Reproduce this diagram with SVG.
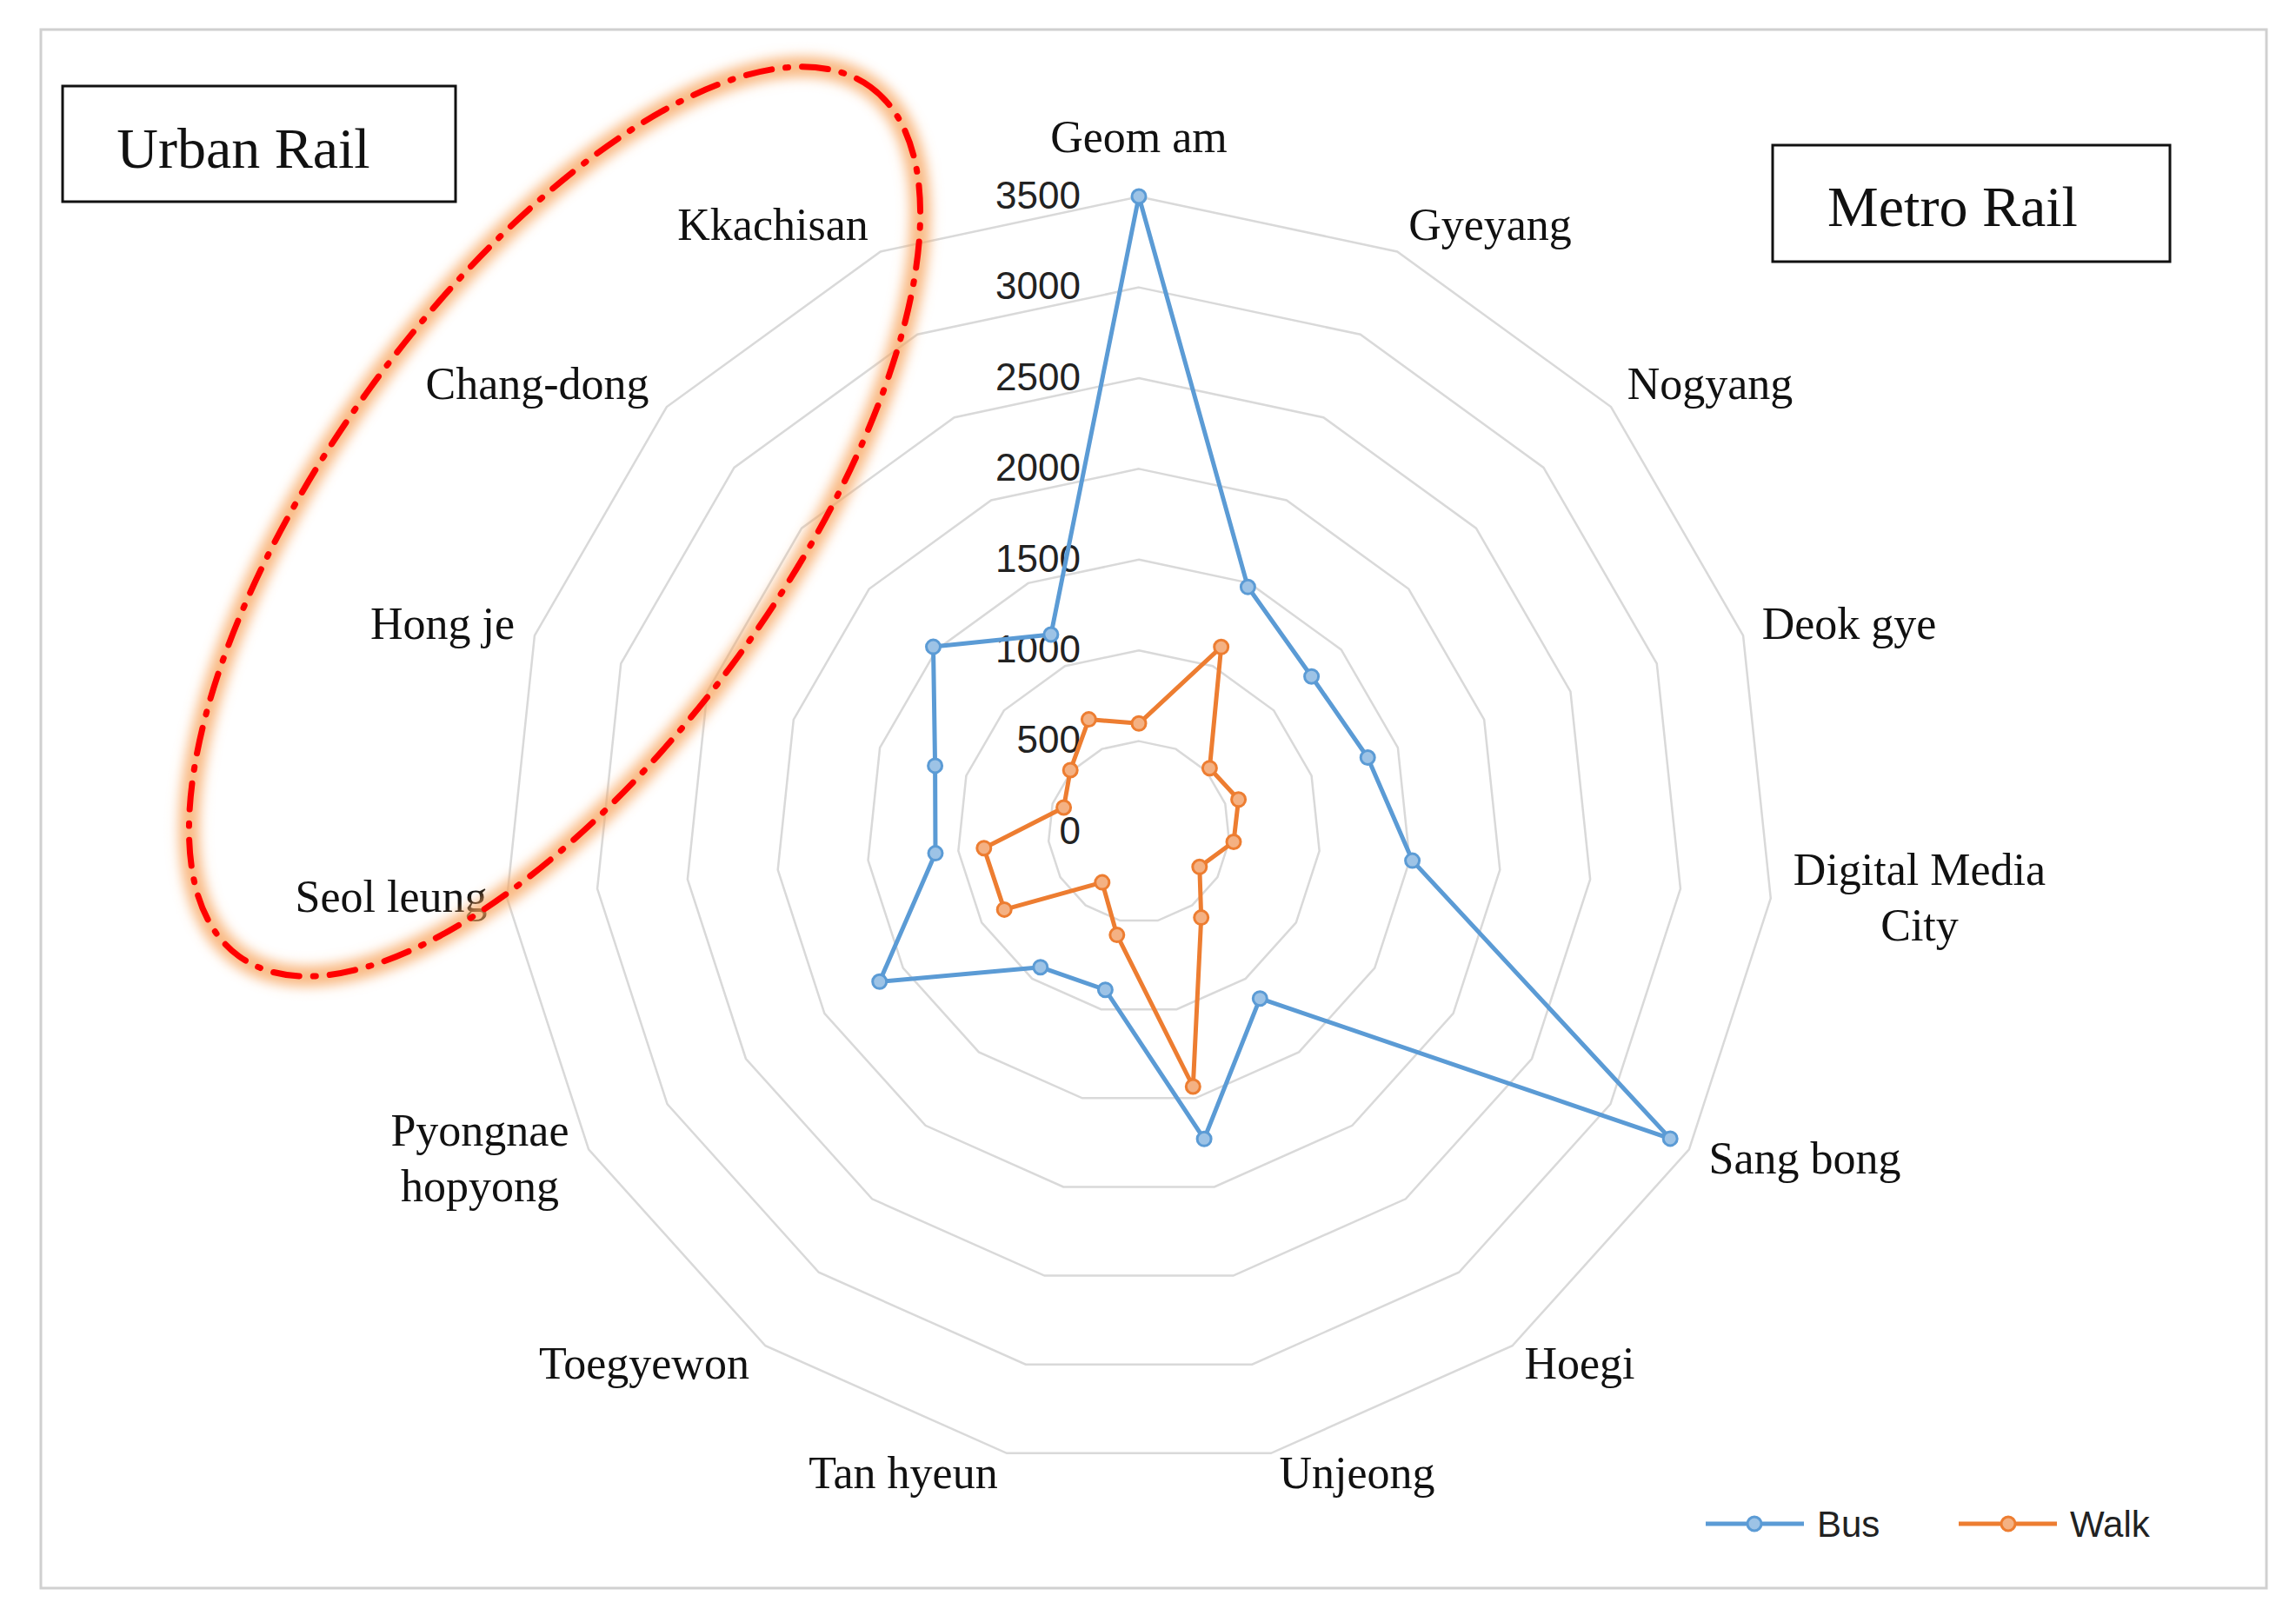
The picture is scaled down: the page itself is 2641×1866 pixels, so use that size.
<svg xmlns="http://www.w3.org/2000/svg" width="2641" height="1866" viewBox="0 0 2641 1866">
<style>
.ring{fill:none;stroke:#D9D9D9;stroke-width:2.5}
.lbl{font-family:"Liberation Serif","Times New Roman",serif;font-size:52px;fill:#111;text-anchor:middle;dominant-baseline:central}
.num{font-family:"Liberation Sans",Arial,sans-serif;font-size:44px;fill:#222;text-anchor:end;dominant-baseline:central}
.leg{font-family:"Liberation Sans",Arial,sans-serif;font-size:42px;fill:#222;dominant-baseline:central}
.box{fill:#fff;stroke:#111;stroke-width:3}
.title{font-family:"Liberation Serif","Times New Roman",serif;font-size:66px;fill:#111;text-anchor:middle;dominant-baseline:central}
</style>
<defs>
<polygon id="u" vector-effect="non-scaling-stroke" fill="none" stroke="#D9D9D9" stroke-width="2.5" points="0,-100 40.67,-91.35 74.31,-66.91 95.11,-30.90 99.45,10.45 86.60,50 58.78,80.90 20.79,97.81 -20.79,97.81 -58.78,80.90 -86.60,50 -99.45,10.45 -95.11,-30.90 -74.31,-66.91 -40.67,-91.35"/>
<marker id="mb" markerUnits="userSpaceOnUse" markerWidth="24" markerHeight="24" refX="12" refY="12"><circle cx="12" cy="12" r="8" fill="#9DC3E6" stroke="#5B9BD5" stroke-width="3"/></marker>
<marker id="mw" markerUnits="userSpaceOnUse" markerWidth="24" markerHeight="24" refX="12" refY="12"><circle cx="12" cy="12" r="8" fill="#F4B183" stroke="#ED7D31" stroke-width="3"/></marker>
<filter id="glow" x="-20%" y="-20%" width="140%" height="140%"><feGaussianBlur stdDeviation="7"/></filter>
</defs>
<rect width="2641" height="1866" fill="#fff"/>
<rect x="47" y="34" width="2560" height="1793" fill="#fff" stroke="#D0D0D0" stroke-width="3"/>
<g id="grid">
<use href="#u" transform="translate(1310,957) scale(1.044)"/>
<use href="#u" transform="translate(1310,957) scale(2.088)"/>
<use href="#u" transform="translate(1310,957) scale(3.132)"/>
<use href="#u" transform="translate(1310,957) scale(4.176)"/>
<use href="#u" transform="translate(1310,957) scale(5.22)"/>
<use href="#u" transform="translate(1310,957) scale(6.264)"/>
<use href="#u" transform="translate(1310,957) scale(7.308)"/>
</g>
<g id="axis-numbers">
<text class="num" x="1243" y="224">3500</text>
<text class="num" x="1243" y="328">3000</text>
<text class="num" x="1243" y="433">2500</text>
<text class="num" x="1243" y="537">2000</text>
<text class="num" x="1243" y="642">1500</text>
<text class="num" x="1243" y="746">1000</text>
<text class="num" x="1243" y="850">500</text>
<text class="num" x="1243" y="955">0</text>
</g>
<g id="connectors">
<polygon id="bus" fill="none" stroke="#5B9BD5" stroke-width="5" stroke-linejoin="round" marker-start="url(#mb)" marker-mid="url(#mb)" points="1310,226 1435.4,675.3 1508.6,778.2 1573.2,871.5 1624.6,990.1 1921.2,1309.9 1449.3,1148.7 1385.1,1310.3 1271.4,1138.7 1196.8,1112.7 1011.7,1129.3 1076,981.6 1075.6,880.9 1073.5,744.1 1208.9,730"/>
<polygon id="walk" fill="none" stroke="#ED7D31" stroke-width="5" stroke-linejoin="round" marker-start="url(#mw)" marker-mid="url(#mw)" points="1310,832.3 1404.7,744.3 1391.4,883.7 1424.6,919.8 1419,968.5 1379.8,997.3 1381.7,1055.6 1372.3,1250 1284.8,1075.6 1267.8,1015.1 1155.2,1046.4 1131.8,975.7 1223.6,929 1231.2,886 1252.4,827.6"/>
</g>
<g id="labels">
<text class="lbl" x="1310" y="157">Geom am</text>
<text class="lbl" x="1714" y="258">Gyeyang</text>
<text class="lbl" x="1967" y="441">Nogyang</text>
<text class="lbl" x="2127" y="717">Deok gye</text>
<text class="lbl" x="2208" y="1000">Digital Media</text>
<text class="lbl" x="2208" y="1064">City</text>
<text class="lbl" x="2076" y="1332">Sang bong</text>
<text class="lbl" x="1817" y="1568">Hoegi</text>
<text class="lbl" x="1561" y="1694">Unjeong</text>
<text class="lbl" x="1039" y="1694">Tan hyeun</text>
<text class="lbl" x="741" y="1568">Toegyewon</text>
<text class="lbl" x="552" y="1300">Pyongnae</text>
<text class="lbl" x="552" y="1364">hopyong</text>
<text class="lbl" x="450" y="1031">Seol leung</text>
<text class="lbl" x="509" y="717">Hong je</text>
<text class="lbl" x="618" y="441">Chang-dong</text>
<text class="lbl" x="889" y="258">Kkachisan</text>
</g>
<g id="urban-rail"><rect class="box" x="72" y="99" width="452" height="133"/><text class="title" x="280" y="170">Urban Rail</text></g>
<g id="metro-rail"><rect class="box" x="2039" y="167" width="457" height="134"/><text class="title" x="2246" y="237">Metro Rail</text></g>
<g id="highlight">
<ellipse cx="638" cy="600" rx="618" ry="262" transform="rotate(-54 638 600)" fill="none" stroke="#F7A35C" stroke-opacity="0.75" stroke-width="24" filter="url(#glow)"/>
<ellipse cx="638" cy="600" rx="618" ry="262" transform="rotate(-54 638 600)" fill="none" stroke="#FF0000" stroke-width="7" stroke-linecap="round" stroke-dasharray="30 16 3 16"/>
</g>
<g id="legend">
<line x1="1962" y1="1753" x2="2075" y2="1753" stroke="#5B9BD5" stroke-width="5"/>
<circle cx="2018" cy="1753" r="8" fill="#9DC3E6" stroke="#5B9BD5" stroke-width="3"/>
<text class="leg" x="2090" y="1753">Bus</text>
<line x1="2253" y1="1753" x2="2366" y2="1753" stroke="#ED7D31" stroke-width="5"/>
<circle cx="2310" cy="1753" r="8" fill="#F4B183" stroke="#ED7D31" stroke-width="3"/>
<text class="leg" x="2381" y="1753">Walk</text>
</g>
</svg>
